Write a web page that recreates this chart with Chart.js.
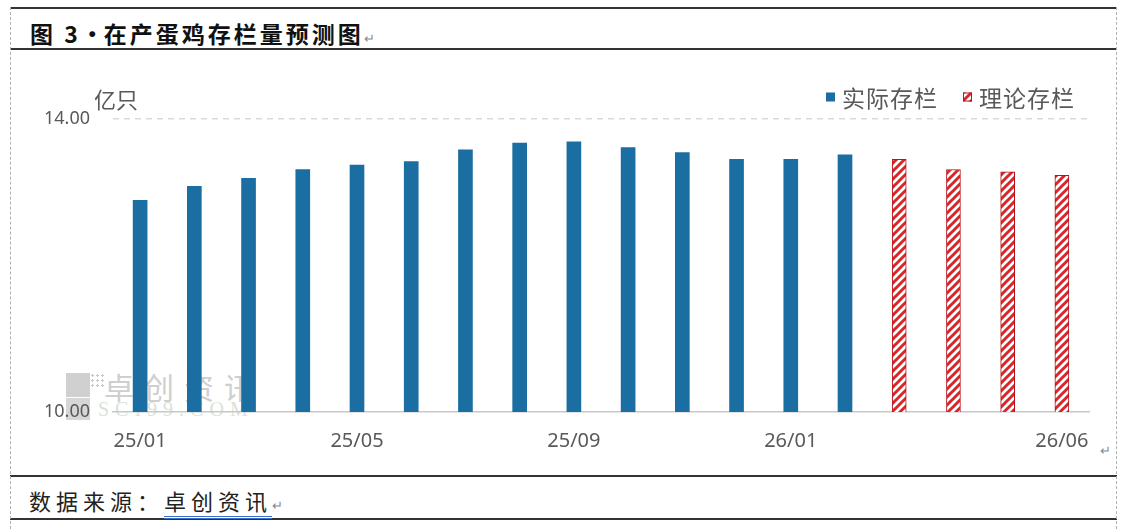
<!DOCTYPE html>
<html>
<head>
<meta charset="utf-8">
<script src="https://cdn.jsdelivr.net/npm/chart.js@4.4.1/dist/chart.umd.min.js"></script>
<style>
  html,body{margin:0;padding:0;background:#fff;}
  body{width:1126px;height:529px;position:relative;overflow:hidden;font-family:"Noto Sans CJK SC","Noto Sans",sans-serif;}
  .abs{position:absolute;}
  #c{position:absolute;left:0;top:0;z-index:2;}
  .hline{position:absolute;background:#333;}
  .vdash{position:absolute;width:0;border-left:1.5px dashed #b0b0b0;}
  .title{left:30px;top:16px;font-size:23px;font-weight:700;color:#111;letter-spacing:3px;white-space:nowrap;}
  .src{left:29px;top:484px;font-size:22px;color:#222;letter-spacing:5px;white-space:nowrap;}
  .ret{font-size:13px;color:#888;font-weight:400;letter-spacing:0;}
  .unit{left:94px;top:82px;font-size:22px;color:#595959;z-index:3;}
  .wm{z-index:1;color:#c8c8c8;white-space:nowrap;}
</style>
</head>
<body>
<div class="hline" style="left:10px;top:7px;width:1107px;height:1.5px;"></div>
<div class="hline" style="left:10px;top:48px;width:1107px;height:2px;"></div>
<div class="hline" style="left:10px;top:475px;width:1107px;height:2px;"></div>
<div class="hline" style="left:10px;top:518px;width:1107px;height:2px;"></div>
<div class="vdash" style="left:10px;top:7px;height:522px;"></div>
<div class="vdash" style="left:1116px;top:7px;height:522px;"></div>

<div class="abs title">图 3<span style="letter-spacing:0">·</span>在产蛋鸡存栏量预测图<span class="ret">↵</span></div>
<div class="abs src">数据来源：<span style="border-bottom:3px double #3d6fc4;">卓创资讯</span><span class="ret">↵</span></div>
<div class="abs ret" style="left:1100px;top:440px;">↵</div>
<div class="abs unit">亿只</div>

<!-- watermark -->
<div class="abs wm" style="left:66px;top:373px;width:24px;height:24px;background:#d0d0d0;"></div>
<div class="abs wm" style="left:66px;top:398px;width:24px;height:22px;background:#d6d6d6;"></div>
<div class="abs wm" style="left:90px;top:373px;width:14px;height:14px;background:radial-gradient(#c8c8c8 35%,transparent 40%) 0 0/5px 5px;"></div>
<div class="abs wm" style="left:104px;top:364px;font-size:30px;color:#cfcfcf;letter-spacing:10px;">卓创资讯</div>
<div class="abs wm" style="left:98px;top:398px;font-size:20px;font-family:'Liberation Serif',serif;color:#d9e3d9;letter-spacing:6px;">SCI99.COM</div>

<canvas id="c" width="1126" height="529"></canvas>

<script>
const categories = ['25/01','25/02','25/03','25/04','25/05','25/06','25/07','25/08','25/09','25/10','25/11','25/12','26/01','26/02','26/03','26/04','26/05','26/06'];
const actualStock = [12.89,13.08,13.19,13.31,13.37,13.42,13.58,13.67,13.69,13.61,13.54,13.45,13.45,13.51,null,null,null,null];
const theoryStock = [null,null,null,null,null,null,null,null,null,null,null,null,null,null,13.45,13.31,13.28,13.23];
const tickLabels = ['25/01','25/05','25/09','26/01','26/06'];
const seriesNames = ['实际存栏','理论存栏'];
const yTicks = [10, 14];

function hatch(){
  const s = 8;
  const p = document.createElement('canvas');
  p.width = s; p.height = s;
  const g = p.getContext('2d');
  g.fillStyle = '#ffffff';
  g.fillRect(0,0,s,s);
  g.strokeStyle = '#d9262b';
  g.lineWidth = 3;
  g.beginPath();
  g.moveTo(-2, s+2); g.lineTo(s+2, -2);
  g.moveTo(-2, 2); g.lineTo(2, -2);
  g.moveTo(s-2, s+2); g.lineTo(s+2, s-2);
  g.stroke();
  return g.createPattern(p,'repeat');
}
const ctx = document.getElementById('c').getContext('2d');
const hatchPattern = hatch();

const legendPlugin = {
  id:'customLegend',
  afterDraw(chart){
    const c = chart.ctx;
    c.save();
    c.font = '23px "Noto Sans CJK SC", sans-serif';
    c.letterSpacing = '1px';
    c.textBaseline = 'middle';
    const y = 97;
    const box = 9, gapBox = 7, gapItem = 25;
    const ds = chart.data.datasets;
    let widths = ds.map(d => box + gapBox + c.measureText(d.label).width);
    let total = widths.reduce((a,b)=>a+b,0) + gapItem*(ds.length-1);
    let x = 1075 - total;
    ds.forEach((d,i)=>{
      c.fillStyle = d.backgroundColor;
      c.fillRect(x, y-box/2, box, box);
      if (d.borderWidth){ c.strokeStyle = d.borderColor; c.lineWidth = 1; c.strokeRect(x+0.5, y-box/2+0.5, box-1, box-1); }
      c.fillStyle = '#595959';
      c.fillText(d.label, x + box + gapBox, y+1);
      x += widths[i] + gapItem;
    });
    c.restore();
  }
};

new Chart(ctx, {
  type:'bar',
  data:{
    labels: categories,
    datasets:[
      {label: seriesNames[0], data: actualStock, backgroundColor:'#1b6ea2', borderWidth:0, barThickness:14, grouped:false},
      {label: seriesNames[1], data: theoryStock, backgroundColor: hatchPattern, borderColor:'#b8141a', borderWidth:1, barThickness:14, grouped:false}
    ]
  },
  plugins:[legendPlugin],
  options:{
    responsive:false,
    animation:false,
    devicePixelRatio:1,
    layout:{padding:{left:0,right:37,top:119,bottom:77}},
    plugins:{legend:{display:false}, tooltip:{enabled:false}},
    scales:{
      x:{
        grid:{display:true,color:'transparent',drawTicks:false},
        border:{display:true,color:'#c8c8c8',width:1.5},
        ticks:{
          autoSkip:false, maxRotation:0, padding:17, color:'#595959',
          font:{size:20,family:'"Noto Sans","DejaVu Sans",sans-serif'},
          callback:function(v,i){ return tickLabels.includes(categories[i]) ? categories[i] : ''; }
        },
        afterFit(s){ s.height = 40; }
      },
      y:{
        min: yTicks[0], max: yTicks[1],
        afterBuildTicks(s){ s.ticks = yTicks.map(v=>({value:v})); },
        grid:{drawTicks:false, color:(c)=> c.tick && c.tick.value===yTicks[1] ? '#d9d9d9' : 'transparent', lineWidth:1.5},
        border:{display:false, dash:[6,5]},
        ticks:{padding:23, color:'#595959', font:{size:18,family:'"Noto Sans","DejaVu Sans",sans-serif'},
          callback:(v)=> Number(v).toFixed(2)},
        afterFit(s){ s.width = 113; }
      }
    }
  }
});
</script>
</body>
</html>
